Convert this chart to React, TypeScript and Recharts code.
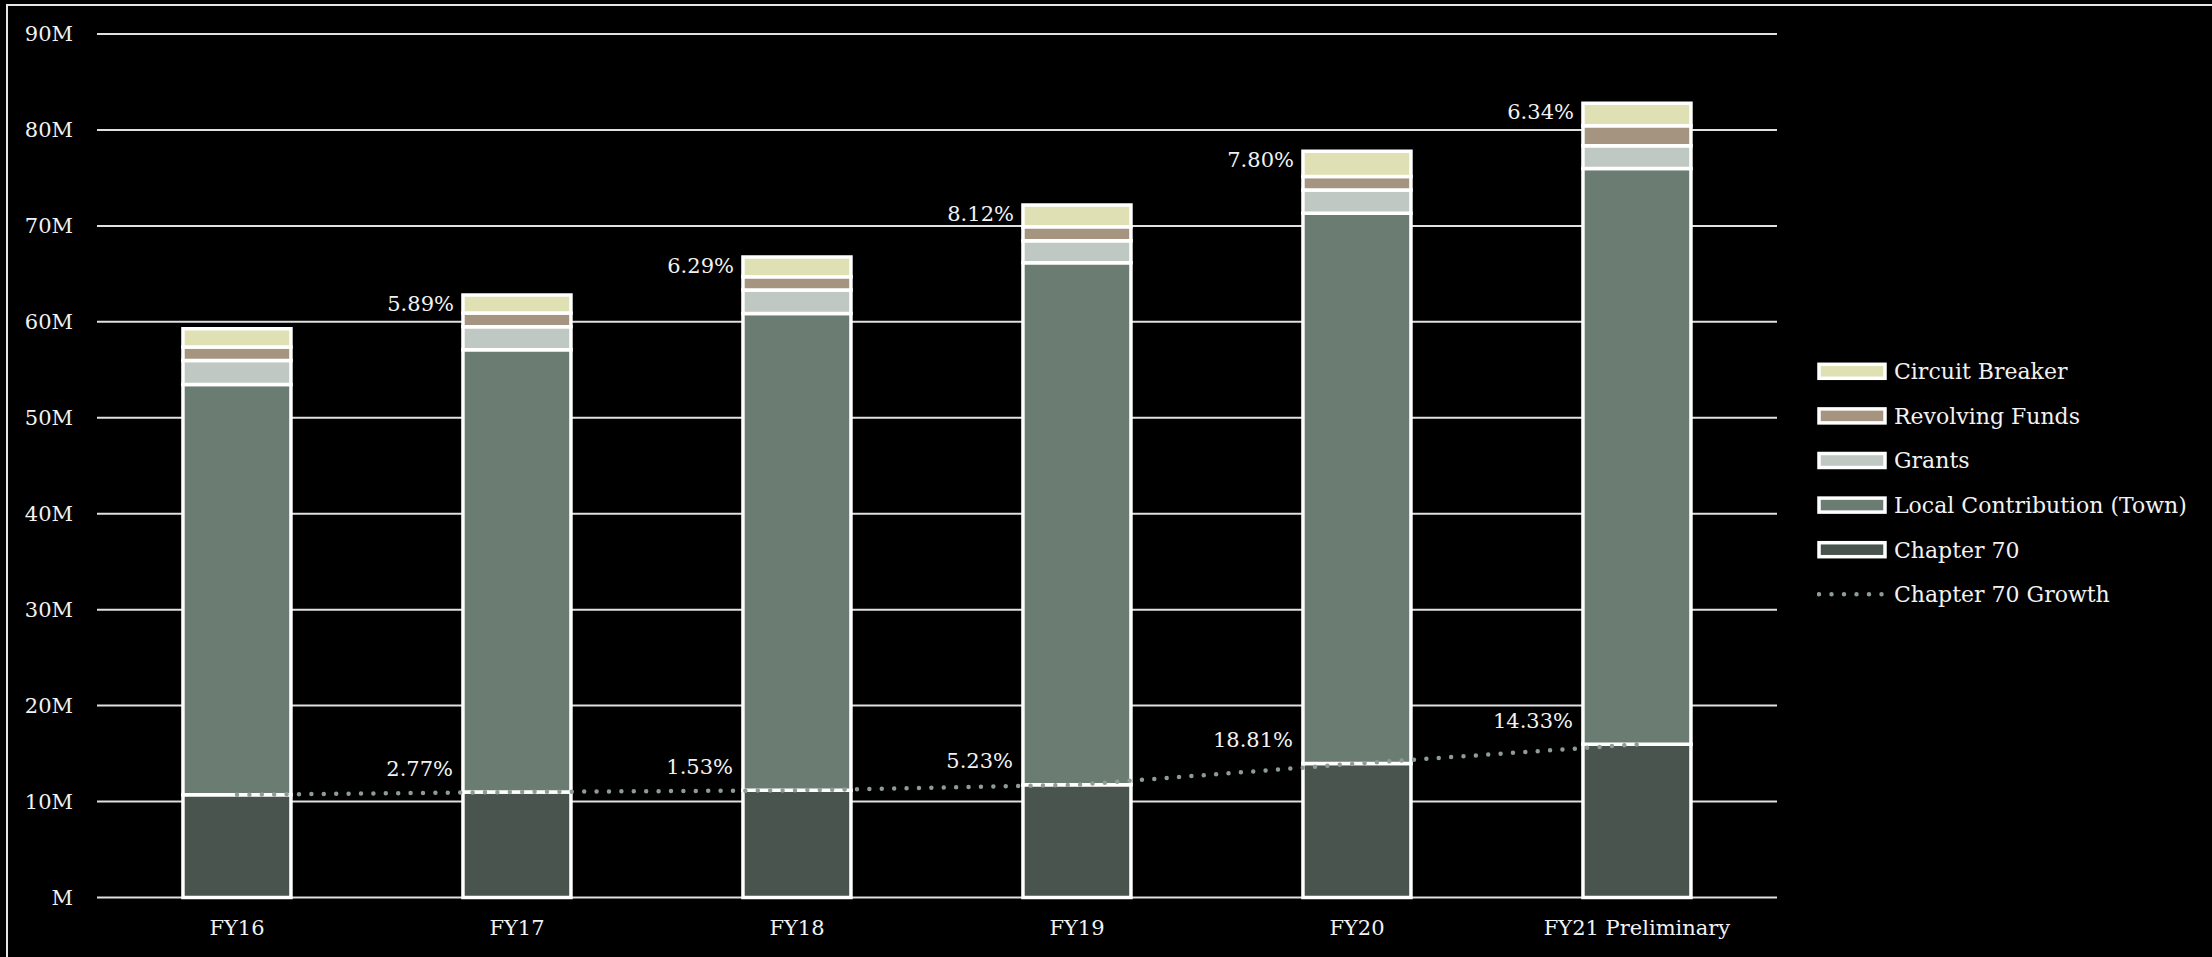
import React from 'react';
import {
    ComposedChart, Bar, Line, XAxis, YAxis, CartesianGrid, Legend, LabelList,
} from 'recharts';

// school budget revenue sources, values in $M
const YEARS = ['FY16', 'FY17', 'FY18', 'FY19', 'FY20', 'FY21 Preliminary'];
const CHAPTER_70 = [10.70, 11.00, 11.17, 11.75, 13.96, 15.96];
const LOCAL_CONTRIBUTION = [42.76, 46.09, 49.69, 54.40, 57.37, 60.01];
const GRANTS = [2.50, 2.39, 2.47, 2.30, 2.42, 2.38];
const REVOLVING_FUNDS = [1.41, 1.43, 1.38, 1.45, 1.41, 2.10];
const CIRCUIT_BREAKER = [1.90, 1.88, 2.04, 2.27, 2.63, 2.34];

// growth labels
const CH70_GROWTH = ['', '2.77%', '1.53%', '5.23%', '18.81%', '14.33%'];
const TOTAL_GROWTH = ['', '5.89%', '6.29%', '8.12%', '7.80%', '6.34%'];

const Y_TICKS = [0, 10, 20, 30, 40, 50, 60, 70, 80, 90];

const data = YEARS.map((year, i) => ({
    year,
    chapter70: CHAPTER_70[i],
    local: LOCAL_CONTRIBUTION[i],
    grants: GRANTS[i],
    revolving: REVOLVING_FUNDS[i],
    circuitBreaker: CIRCUIT_BREAKER[i],
    ch70Growth: CH70_GROWTH[i],
    totalGrowth: TOTAL_GROWTH[i],
}));

const FONT = '"DejaVu Serif", serif';
const TEXT = '#f2f2f2';
const DOT_COLOR = '#8e9c94';

// stack order, bottom first
const SERIES = [
    { key: 'chapter70', name: 'Chapter 70', color: '#4a544e' },
    { key: 'local', name: 'Local Contribution (Town)', color: '#6b7d72' },
    { key: 'grants', name: 'Grants', color: '#bfc8c2' },
    { key: 'revolving', name: 'Revolving Funds', color: '#a59580' },
    { key: 'circuitBreaker', name: 'Circuit Breaker', color: '#dfe0b4' },
];

const TotalGrowthLabel = (props: any) => {
    const { x, y, width, value } = props;
    if (!value) return null;
    return (
        <text x={x + width / 2 - 63} y={y + 8} dy="0.36em" textAnchor="end"
            fill={TEXT} fontFamily={FONT} fontSize={21}>{value}</text>
    );
};

const Ch70GrowthLabel = (props: any) => {
    const { x, y, value } = props;
    if (!value) return null;
    return (
        <text x={x - 64} y={y - 24} dy="0.36em" textAnchor="end"
            fill={TEXT} fontFamily={FONT} fontSize={21}>{value}</text>
    );
};

// legend drawn top to bottom: bars reversed, then the growth line
const CustomLegend = () => {
    const rows = [...SERIES].reverse();
    const rowH = 44.6;
    return (
        <svg width={393} height={rowH * 6}>
            {rows.map((s, i) => (
                <g key={s.key} transform={`translate(0, ${i * rowH + rowH / 2})`}>
                    <rect x={2} y={-7} width={66} height={14} fill={s.color} stroke="#fff" strokeWidth={3.5} />
                    <text x={77} y={0} dy="0.36em" fill={TEXT} fontFamily={FONT} fontSize={22}>{s.name}</text>
                </g>
            ))}
            <g transform={`translate(0, ${5 * rowH + rowH / 2})`}>
                <line x1={2} y1={0} x2={66} y2={0} stroke={DOT_COLOR} strokeWidth={4.5}
                    strokeDasharray="0 12.5" strokeLinecap="round" />
                <text x={77} y={0} dy="0.36em" fill={TEXT} fontFamily={FONT} fontSize={22}>Chapter 70 Growth</text>
            </g>
        </svg>
    );
};

export default function App() {
    return (
        <div style={{ position: 'absolute', left: 0, top: 0, width: 2212, height: 957, background: '#000', overflow: 'hidden' }}>
            {/* outer frame */}
            <div style={{ position: 'absolute', left: 6, top: 4, width: 2400, height: 1200, border: '2px solid #e6e6e6' }} />
            <ComposedChart
                width={2212}
                height={957}
                data={data}
                margin={{ top: 34, right: 435, bottom: 0, left: 0 }}
                barCategoryGap="30.7%"
            >
                <CartesianGrid vertical={false} stroke="#e0e0e0" strokeWidth={2} />
                <XAxis
                    dataKey="year"
                    height={59.5}
                    axisLine={false}
                    tickLine={false}
                    tickSize={0}
                    tickMargin={23}
                    tick={{ fill: TEXT, fontFamily: FONT, fontSize: 21 }}
                />
                <YAxis
                    width={97}
                    domain={[0, 90]}
                    ticks={Y_TICKS}
                    axisLine={false}
                    tickLine={false}
                    tickSize={0}
                    tickMargin={24}
                    tick={{ fill: TEXT, fontFamily: FONT, fontSize: 21 }}
                    tickFormatter={(v) => (v === 0 ? 'M' : `${v}M`)}
                />
                <Legend
                    layout="vertical"
                    align="center"
                    verticalAlign="middle"
                    wrapperStyle={{ left: 1817, top: 349, width: 393 }}
                    content={() => <CustomLegend />}
                />
                {SERIES.map((s) => (
                    <Bar key={s.key} dataKey={s.key} name={s.name} stackId="a" fill={s.color}
                        stroke="#fff" strokeWidth={3.5} isAnimationActive={false}>
                        {s.key === 'circuitBreaker' && (
                            <LabelList dataKey="totalGrowth" content={TotalGrowthLabel} />
                        )}
                    </Bar>
                ))}
                <Line
                    type="linear"
                    dataKey="chapter70"
                    name="Chapter 70 Growth"
                    stroke={DOT_COLOR}
                    strokeWidth={4.5}
                    strokeDasharray="0 12.4"
                    strokeLinecap="round"
                    dot={false}
                    activeDot={false}
                    legendType="none"
                    isAnimationActive={false}
                >
                    <LabelList dataKey="ch70Growth" content={Ch70GrowthLabel} />
                </Line>
            </ComposedChart>
        </div>
    );
}
